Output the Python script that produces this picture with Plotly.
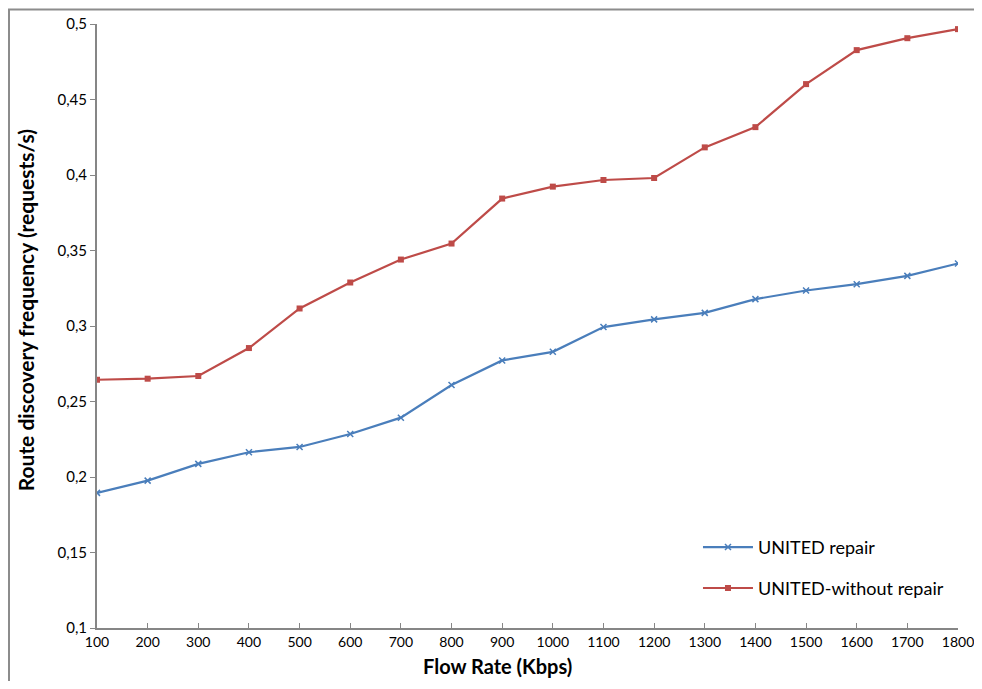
import plotly.graph_objects as go

# Flow rate categories (Kbps)
flow_rate = [100, 200, 300, 400, 500, 600, 700, 800, 900,
             1000, 1100, 1200, 1300, 1400, 1500, 1600, 1700, 1800]

# route discovery frequency (requests/s)
united_repair = [0.1895, 0.1976, 0.2087, 0.2164, 0.2199, 0.2285, 0.2393, 0.2609, 0.2772,
                 0.2829, 0.2993, 0.3044, 0.3087, 0.3178, 0.3235, 0.3277, 0.3332, 0.3414]
united_without_repair = [0.2644, 0.2651, 0.2669, 0.2854, 0.3116, 0.3288, 0.3440, 0.3546, 0.3844,
                         0.3923, 0.3967, 0.3980, 0.4183, 0.4317, 0.4602, 0.4827, 0.4906, 0.4966]

y_ticks = [0.1, 0.15, 0.2, 0.25, 0.3, 0.35, 0.4, 0.45, 0.5]

FONT = 'Lato, "Open Sans", sans-serif'
AXIS_GREY = '#868686'

fig = go.Figure()

fig.add_trace(go.Scatter(
    x=flow_rate, y=united_repair,
    mode='lines+markers',
    name='UNITED repair',
    showlegend=True,
    line=dict(color='#4a7ebb', width=2.2),
    marker=dict(symbol='x-thin', size=6, line=dict(color='#4a7ebb', width=1.5)),
    legend='legend'
))

fig.add_trace(go.Scatter(
    x=flow_rate, y=united_without_repair,
    mode='lines+markers',
    name='UNITED-without repair',
    showlegend=True,
    line=dict(color='#be4b48', width=2.2),
    marker=dict(symbol='square', size=6, color='#be4b48'),
    legend='legend2'
))

# outer chart frame (page has an 8px body margin, so figure is 966x673)
fig.add_shape(type='rect', xref='paper', yref='paper',
              x0=-0.1022, x1=1.03, y0=-0.1, y1=1.024,
              line=dict(color='#8c8c8c', width=2), fillcolor='rgba(0,0,0,0)', layer='below')

# axis titles placed as annotations (x title sits left of centre in the original)
fig.add_annotation(text='<b>Flow Rate (Kbps)</b>', xref='paper', yref='paper',
                   x=0.4646, y=-0.0623, xanchor='center', yanchor='middle',
                   showarrow=False, font=dict(size=20))
fig.add_annotation(text='<b>Route discovery frequency (requests/s)</b>', xref='paper', yref='paper',
                   x=-0.0836, y=0.526, xanchor='center', yanchor='middle', textangle=-90,
                   showarrow=False, font=dict(size=21))

fig.update_layout(
    width=966, height=673,
    margin=dict(l=89, r=16, t=16, b=53, autoexpand=False),
    paper_bgcolor='white', plot_bgcolor='white',
    separators=',.',
    font=dict(family=FONT, size=14, color='black'),
    xaxis=dict(
        range=[100, 1800],
        tickvals=flow_rate,
        ticktext=[str(v) for v in flow_rate],
        ticks='inside', ticklen=5, tickcolor=AXIS_GREY, tickwidth=1,
        showline=True, linecolor=AXIS_GREY, linewidth=2,
        showgrid=False, zeroline=False, automargin=False,
        ticklabeloverflow='allow',
        tickfont=dict(size=14),
    ),
    yaxis=dict(
        range=[0.1, 0.5],
        tickvals=y_ticks,
        ticks='outside', ticklen=5, tickcolor=AXIS_GREY, tickwidth=1,
        showline=True, linecolor=AXIS_GREY, linewidth=2,
        showgrid=False, zeroline=False, automargin=False,
        ticklabeloverflow='allow',
        tickfont=dict(size=15),
    ),
    legend=dict(x=0.698, y=0.1335, xanchor='left', yanchor='middle',
                bgcolor='rgba(0,0,0,0)', font=dict(size=18), itemwidth=50),
    legend2=dict(x=0.698, y=0.0657, xanchor='left', yanchor='middle',
                 bgcolor='rgba(0,0,0,0)', font=dict(size=18), itemwidth=50),
)

fig.write_html("out.html")
